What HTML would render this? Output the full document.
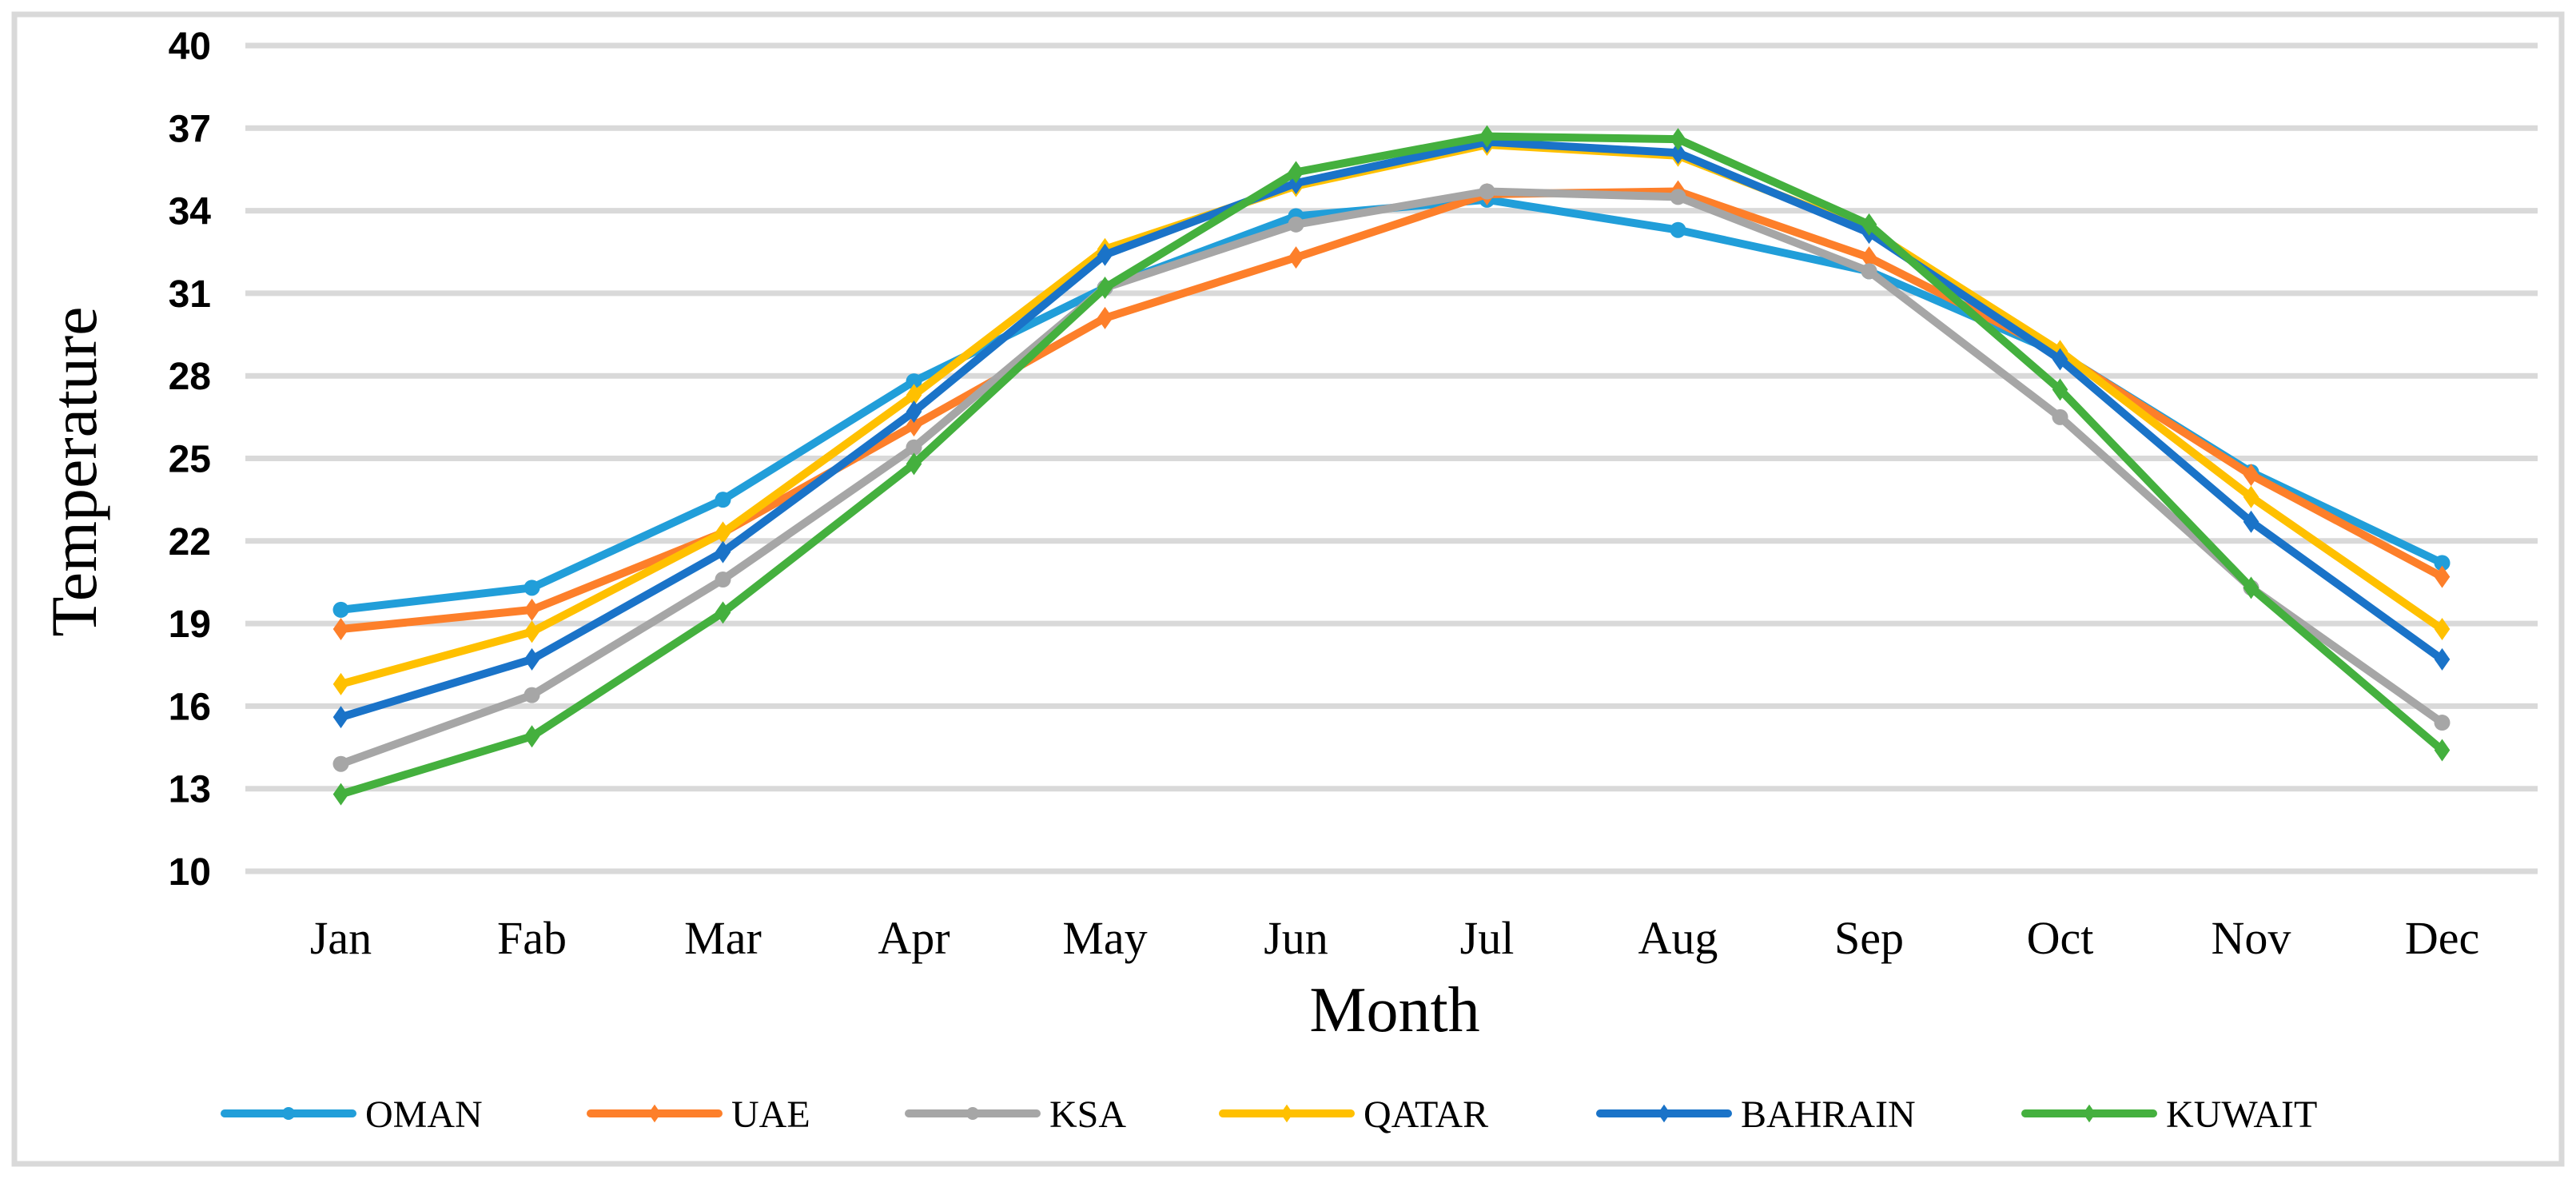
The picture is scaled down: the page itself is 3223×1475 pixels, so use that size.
<!DOCTYPE html>
<html><head><meta charset="utf-8"><style>
html,body{margin:0;padding:0;background:#fff;}
svg{display:block;}
.serif{font-family:"Liberation Serif",serif;}
</style></head><body>
<svg id="chart" width="3223" height="1475" viewBox="0 0 3223 1475" xmlns="http://www.w3.org/2000/svg">
<rect x="18" y="18" width="3187" height="1438" fill="#fff" stroke="#d9d9d9" stroke-width="7"/>
<g id="grid"></g>
<g id="yticks"></g>
<g id="xticks"></g>
<g id="series"></g>
<text class="serif" transform="translate(120,590) rotate(-90)" text-anchor="middle" font-size="82">Temperature</text>
<text class="serif" x="1745" y="1290" text-anchor="middle" font-size="80">Month</text>
<g id="legend"></g>
</svg>
<script>
const months = ["Jan","Fab","Mar","Apr","May","Jun","Jul","Aug","Sep","Oct","Nov","Dec"];
const yTicks = [10,13,16,19,22,25,28,31,34,37,40];
const seriesNames = ["OMAN","UAE","KSA","QATAR","BAHRAIN","KUWAIT"];
const omanValues = [19.5,20.3,23.5,27.8,31.2,33.8,34.4,33.3,31.8,28.8,24.5,21.2];
const uaeValues = [18.8,19.5,22.3,26.2,30.1,32.3,34.6,34.7,32.3,28.8,24.4,20.7];
const ksaValues = [13.9,16.4,20.6,25.4,31.2,33.5,34.7,34.5,31.8,26.5,20.3,15.4];
const qatarValues = [16.8,18.7,22.3,27.3,32.6,34.9,36.4,36.0,33.3,28.9,23.6,18.8];
const bahrainValues = [15.6,17.7,21.6,26.7,32.4,35.0,36.5,36.1,33.2,28.6,22.7,17.7];
const kuwaitValues = [12.8,14.9,19.4,24.8,31.2,35.4,36.7,36.6,33.5,27.5,20.3,14.4];

const NS="http://www.w3.org/2000/svg";
const px0=307, px1=3175, py0=1090, py1=57, yMin=10, yMax=40;
const xScale=i=>px0+(px1-px0)/months.length*(i+0.5);
const yScale=v=>py0-(v-yMin)/(yMax-yMin)*(py0-py1);
function mk(tag,attrs,parent){const e=document.createElementNS(NS,tag);for(const k in attrs)e.setAttribute(k,attrs[k]);parent.appendChild(e);return e;}

const grid=document.getElementById('grid'), yt=document.getElementById('yticks'), xt=document.getElementById('xticks');
yTicks.forEach(t=>{
  const y=yScale(t);
  const l=mk('line',{x1:px0,x2:px1,y1:y,y2:y,stroke:'#d9d9d9','stroke-width':7},grid);
  
  
  const tx=mk('text',{x:264,y:y+17,'text-anchor':'end','font-family':'Liberation Sans, sans-serif','font-weight':'bold','font-size':48},yt);
  tx.textContent=t;
  
  
});
months.forEach((m,i)=>{
  const tx=mk('text',{x:xScale(i),y:1193,'text-anchor':'middle','class':'serif','font-size':58},xt);
  tx.textContent=m;
  
  
});

const allValues=[omanValues,uaeValues,ksaValues,qatarValues,bahrainValues,kuwaitValues];
const colors=["#219ed9","#fd7f2a","#a6a6a6","#ffc000","#1a73c8","#44b03e"];
const shapes=["circle","diamond","circle","diamond","diamond","diamond"];
function marker(x,y,shape,color,parent,r){
  let e;
  if(shape==='circle'){e=mk('circle',{cx:x,cy:y,r:r||10,fill:color},parent);}
  else{const s=r?r*1.4:14;e=mk('polygon',{points:`${x},${y-s} ${x+s*0.7},${y} ${x},${y+s} ${x-s*0.7},${y}`,fill:color},parent);}
  return e;
}
const sg=document.getElementById('series');
allValues.forEach((vals,si)=>{
  const g=mk('g',{},sg);
  
  
  const pts=vals.map((v,i)=>xScale(i)+','+yScale(v)).join(' ');
  const pl=mk('polyline',{points:pts,fill:'none',stroke:colors[si],'stroke-width':10,'stroke-linejoin':'round','stroke-linecap':'round'},g);
  
  
  vals.forEach((v,i)=>{
    const m=marker(xScale(i),yScale(v),shapes[si],colors[si],g);
    
    
  });
});

const lg=document.getElementById('legend');
const legendX=[277,735,1133,1526,1998,2530];
seriesNames.forEach((n,si)=>{
  const g=mk('g',{},lg);
  
  
  const x=legendX[si], y=1393;
  mk('line',{x1:x+4,x2:x+164,y1:y,y2:y,stroke:colors[si],'stroke-width':10,'stroke-linecap':'round'},g);
  marker(x+84,y,shapes[si],colors[si],g,8);
  const t=mk('text',{x:x+180,y:y+17,'class':'serif','font-size':48},g);
  t.textContent=n;
});
</script>
</body></html>
